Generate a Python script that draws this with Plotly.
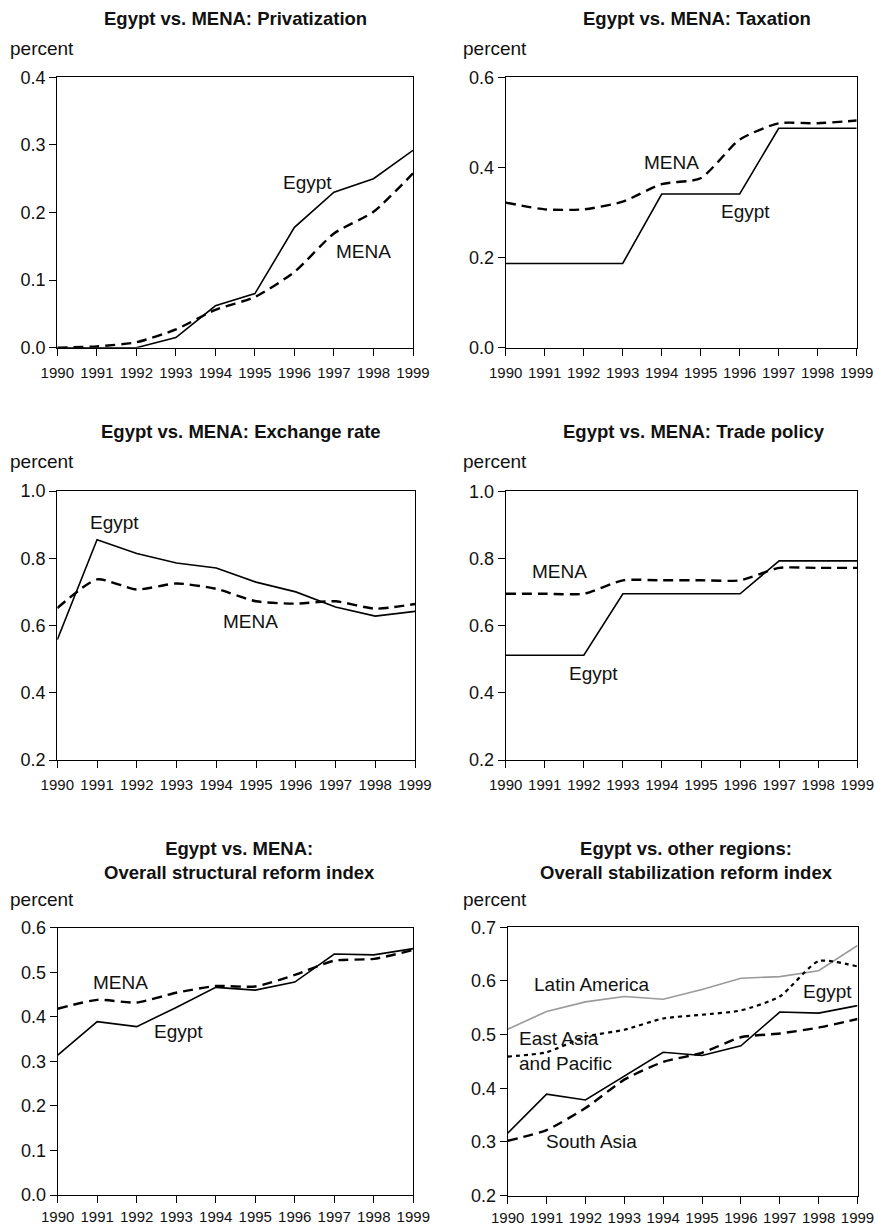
import plotly.graph_objects as go

years = list(range(1990, 2000))

# Panel 1: Privatization
priv_egypt = [0.0, 0.0, 0.0, 0.015, 0.062, 0.080, 0.178, 0.230, 0.250, 0.292]
priv_mena = [0.0, 0.002, 0.008, 0.027, 0.056, 0.075, 0.112, 0.169, 0.201, 0.258]

# Panel 2: Taxation
tax_egypt = [0.187, 0.187, 0.187, 0.187, 0.341, 0.341, 0.341, 0.487, 0.487, 0.487]
tax_mena = [0.322, 0.307, 0.307, 0.324, 0.363, 0.376, 0.462, 0.498, 0.498, 0.504]

# Panel 3: Exchange rate
exch_egypt = [0.558, 0.855, 0.814, 0.786, 0.771, 0.729, 0.700, 0.655, 0.628, 0.642]
exch_mena = [0.652, 0.737, 0.707, 0.725, 0.709, 0.672, 0.665, 0.672, 0.650, 0.664]

# Panel 4: Trade policy
trade_egypt = [0.512, 0.512, 0.512, 0.695, 0.695, 0.695, 0.695, 0.793, 0.793, 0.793]
trade_mena = [0.695, 0.695, 0.695, 0.735, 0.735, 0.735, 0.735, 0.772, 0.772, 0.772]

# Panel 5: Overall structural reform index
struct_egypt = [0.314, 0.389, 0.378, 0.421, 0.466, 0.460, 0.478, 0.541, 0.539, 0.553]
struct_mena = [0.418, 0.438, 0.432, 0.454, 0.469, 0.468, 0.494, 0.526, 0.530, 0.550]

# Panel 6: Overall stabilization reform index
stab_latam = [0.510, 0.543, 0.561, 0.571, 0.566, 0.584, 0.605, 0.608, 0.619, 0.666]
stab_eap = [0.459, 0.467, 0.496, 0.509, 0.530, 0.537, 0.545, 0.571, 0.637, 0.627]
stab_egypt = [0.316, 0.389, 0.378, 0.422, 0.467, 0.461, 0.479, 0.542, 0.540, 0.554]
stab_sasia = [0.302, 0.322, 0.363, 0.416, 0.449, 0.466, 0.495, 0.502, 0.513, 0.529]

W, H = 875, 1228

# panel boxes in pixels: (x0, x1, ytop, ybottom)
boxes = [
    (57.3, 413.0, 77.3, 347.7),
    (505.7, 856.7, 77.3, 347.7),
    (57.3, 415.0, 491.0, 760.0),
    (505.7, 857.3, 491.3, 760.0),
    (57.7, 413.3, 927.7, 1195.0),
    (507.7, 857.5, 927.3, 1195.5),
]
yranges = [(0, 0.4), (0, 0.6), (0.2, 1.0), (0.2, 1.0), (0, 0.6), (0.2, 0.7)]
ydticks = [0.1, 0.2, 0.2, 0.2, 0.1, 0.1]
standoffs = [4, 4, 4, 4, 1, 1]

titles = [
    ("Egypt vs. MENA: Privatization", 235.5, 18),
    ("Egypt vs. MENA: Taxation", 697, 18),
    ("Egypt vs. MENA: Exchange rate", 241, 432),
    ("Egypt vs. MENA: Trade policy", 693.5, 432),
    ("Egypt vs. MENA:<br>Overall structural reform index", 239.7, 860),
    ("Egypt vs. other regions:<br>Overall stabilization reform index", 686.7, 860),
]
percent_pos = [(8.3, 48), (460.7, 48), (8.3, 462), (460.7, 462), (8.3, 899), (460.7, 899)]

FONT = "Liberation Sans, Arial, Helvetica, sans-serif"

fig = go.Figure()

series = [
    [(priv_egypt, "solid", "black", 1.6, "linear"), (priv_mena, "10px,6px", "black", 2.4, "spline")],
    [(tax_egypt, "solid", "black", 1.6, "linear"), (tax_mena, "10px,6px", "black", 2.4, "spline")],
    [(exch_egypt, "solid", "black", 1.6, "linear"), (exch_mena, "10px,6px", "black", 2.4, "spline")],
    [(trade_egypt, "solid", "black", 1.6, "linear"), (trade_mena, "10px,6px", "black", 2.4, "spline")],
    [(struct_egypt, "solid", "black", 1.6, "linear"), (struct_mena, "10px,6px", "black", 2.4, "spline")],
    [(stab_latam, "solid", "#9a9a9a", 1.6, "linear"), (stab_eap, "4px,4px", "black", 2.2, "spline"),
     (stab_egypt, "solid", "black", 1.6, "linear"), (stab_sasia, "10px,6px", "black", 2.4, "spline")],
]

labels = [
    [("Egypt", 1996.32, 0.245, "center"), ("MENA", 1997.74, 0.142, "center")],
    [("MENA", 1994.26, 0.412, "center"), ("Egypt", 1996.14, 0.303, "center")],
    [("Egypt", 1991.45, 0.905, "center"), ("MENA", 1994.85, 0.613, "center")],
    [("MENA", 1991.39, 0.760, "center"), ("Egypt", 1992.26, 0.459, "center")],
    [("MENA", 1991.6, 0.476, "center"), ("Egypt", 1993.05, 0.368, "center")],
    [("Latin America", 1992.16, 0.594, "center"), ("Egypt", 1998.23, 0.580, "center"),
     ("East Asia<br>and Pacific", 1990.24, 0.470, "left"), ("South Asia", 1992.16, 0.300, "center")],
]

annotations = []
layout_axes = {}
for i, (box, yr, dt) in enumerate(zip(boxes, yranges, ydticks)):
    n = i + 1
    x0, x1, yt, yb = box
    xa = "x" if n == 1 else f"x{n}"
    ya = "y" if n == 1 else f"y{n}"
    for (vals, dash, color, width, shape) in series[i]:
        fig.add_trace(go.Scatter(
            x=years, y=vals, mode="lines", xaxis=xa, yaxis=ya,
            line=dict(color=color, width=width, dash=dash, shape=shape, smoothing=0.6),
            showlegend=False, hoverinfo="skip", cliponaxis=True,
        ))
    layout_axes["xaxis" if n == 1 else f"xaxis{n}"] = dict(
        domain=[x0 / W, x1 / W], anchor=ya, range=[1990, 1999],
        tickmode="array", tickvals=years, ticktext=[str(y) for y in years],
        tickangle=0, automargin=False, ticklabelstandoff=standoffs[i],
        ticks="outside", ticklen=7, tickwidth=1.2, tickcolor="black",
        showline=True, linecolor="black", linewidth=1.2, mirror=True,
        showgrid=False, zeroline=False,
        tickfont=dict(family=FONT, size=15, color="#111"),
    )
    layout_axes["yaxis" if n == 1 else f"yaxis{n}"] = dict(
        domain=[1 - yb / H, 1 - yt / H], anchor=xa, range=list(yr),
        tick0=yr[0], dtick=dt, tickformat=".1f", automargin=False,
        ticks="outside", ticklen=7, tickwidth=1.2, tickcolor="black",
        showline=True, linecolor="black", linewidth=1.2, mirror=True,
        showgrid=False, zeroline=False,
        tickfont=dict(family=FONT, size=18, color="#111"),
    )
    for (txt, lx, ly, al) in labels[i]:
        annotations.append(dict(
            text=txt, x=lx, y=ly, xref=xa, yref=ya, showarrow=False,
            xanchor=al, yanchor="middle", align=al,
            font=dict(family=FONT, size=19, color="#111"),
        ))
    t, tx, ty = titles[i]
    annotations.append(dict(
        text=f"<b>{t}</b>", x=tx / W, y=1 - ty / H, xref="paper", yref="paper",
        showarrow=False, xanchor="center", yanchor="middle", align="center",
        font=dict(family=FONT, size=18.5, color="#111"),
    ))
    px, py = percent_pos[i]
    annotations.append(dict(
        text="percent", x=px / W, y=1 - py / H, xref="paper", yref="paper",
        showarrow=False, xanchor="left", yanchor="middle",
        font=dict(family=FONT, size=19, color="#111"),
    ))

fig.update_layout(
    width=W, height=H, autosize=False,
    margin=dict(l=0, r=0, t=0, b=0, pad=0),
    paper_bgcolor="white", plot_bgcolor="white",
    annotations=annotations,
    **layout_axes,
)

fig.write_html("out.html", config={"displayModeBar": False},
               post_script="document.body.style.margin='0';")
